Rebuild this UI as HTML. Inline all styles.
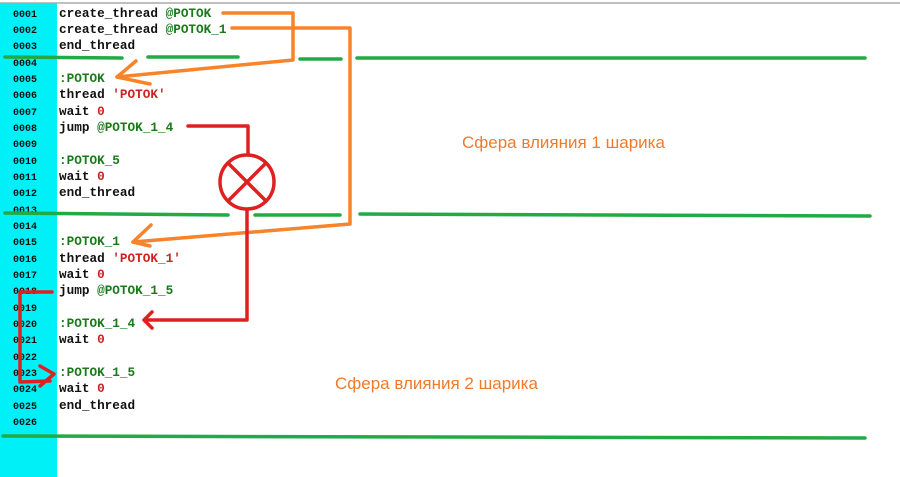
<!DOCTYPE html>
<html><head><meta charset="utf-8"><style>
html,body{margin:0;padding:0;width:900px;height:477px;overflow:hidden;background:#fff}
svg{display:block}
.n{font:bold 10px "Liberation Mono",monospace;fill:#111}
.c{font:bold 12.7px "Liberation Mono",monospace;fill:#111}
.g{fill:#1a7a1a}.r{fill:#cc2222}
.t{font:17px "Liberation Sans","DejaVu Sans",sans-serif;fill:#f07a2a}
</style></head><body>
<svg width="900" height="477" viewBox="0 0 900 477" xmlns="http://www.w3.org/2000/svg">
<rect x="0" y="3" width="57" height="474" fill="#00f0f8"/>
<line x1="0" y1="3" x2="900" y2="3" stroke="#aaa" stroke-width="1.5"/>
<g class="n">
<text x="13" y="17">0001</text><text x="13" y="33">0002</text><text x="13" y="49">0003</text><text x="13" y="66">0004</text><text x="13" y="82">0005</text><text x="13" y="98">0006</text><text x="13" y="115">0007</text><text x="13" y="131">0008</text><text x="13" y="147">0009</text><text x="13" y="164">0010</text><text x="13" y="180">0011</text><text x="13" y="196">0012</text><text x="13" y="213">0013</text><text x="13" y="229">0014</text><text x="13" y="245">0015</text><text x="13" y="262">0016</text><text x="13" y="278">0017</text><text x="13" y="294">0018</text><text x="13" y="311">0019</text><text x="13" y="327">0020</text><text x="13" y="343">0021</text><text x="13" y="360">0022</text><text x="13" y="376">0023</text><text x="13" y="392">0024</text><text x="13" y="409">0025</text><text x="13" y="425">0026</text>
</g>
<g class="c">
<text x="59" y="17">create_thread <tspan class="g">@POTOK</tspan></text>
<text x="59" y="33">create_thread <tspan class="g">@POTOK_1</tspan></text>
<text x="59" y="49">end_thread</text>
<text x="59" y="82" class="g">:POTOK</text>
<text x="59" y="98">thread <tspan class="r">'POTOK'</tspan></text>
<text x="59" y="115">wait <tspan class="r">0</tspan></text>
<text x="59" y="131">jump <tspan class="g">@POTOK_1_4</tspan></text>
<text x="59" y="164" class="g">:POTOK_5</text>
<text x="59" y="180">wait <tspan class="r">0</tspan></text>
<text x="59" y="196">end_thread</text>
<text x="59" y="245" class="g">:POTOK_1</text>
<text x="59" y="262">thread <tspan class="r">'POTOK_1'</tspan></text>
<text x="59" y="278">wait <tspan class="r">0</tspan></text>
<text x="59" y="294">jump <tspan class="g">@POTOK_1_5</tspan></text>
<text x="59" y="327" class="g">:POTOK_1_4</text>
<text x="59" y="343">wait <tspan class="r">0</tspan></text>
<text x="59" y="376" class="g">:POTOK_1_5</text>
<text x="59" y="392">wait <tspan class="r">0</tspan></text>
<text x="59" y="409">end_thread</text>
</g>
<g stroke="#22aa44" stroke-width="3.5" stroke-linecap="round" fill="none">
<line x1="5" y1="57" x2="122" y2="58"/><line x1="148" y1="57" x2="238" y2="57"/><line x1="300" y1="59" x2="341" y2="59"/><line x1="357" y1="58" x2="865" y2="58"/>
<line x1="5" y1="213" x2="228" y2="215"/><line x1="255" y1="215" x2="340" y2="215"/><line x1="360" y1="214" x2="870" y2="216"/>
<line x1="3" y1="436" x2="865" y2="438"/>
</g>
<g stroke="#f7842a" stroke-width="3.5" stroke-linecap="round" stroke-linejoin="round" fill="none">
<polyline points="223,13 293,13 293,60 117,77"/>
<polyline points="136,61 117,77 150,84"/>
<polyline points="232,28 350,28 350,224 133,242"/>
<polyline points="151,225 133,242 150,246"/>
</g>
<g stroke="#e02020" stroke-width="3.5" stroke-linecap="round" stroke-linejoin="round" fill="none">
<polyline points="188,126 248,126 248,155"/>
<circle cx="247" cy="182" r="27"/>
<line x1="228" y1="163" x2="266" y2="201"/><line x1="266" y1="163" x2="228" y2="201"/>
<polyline points="247,210 247,320 145,320"/>
<polyline points="152,312 144,320 152,328"/>
<polyline points="52,292 20,292 20,382 50,381"/>
<polyline points="40,366 54,374 40,386"/>
</g>
<text class="t" x="462" y="148">Сфера влияния 1 шарика</text>
<text class="t" x="335" y="389">Сфера влияния 2 шарика</text>
</svg>
</body></html>
